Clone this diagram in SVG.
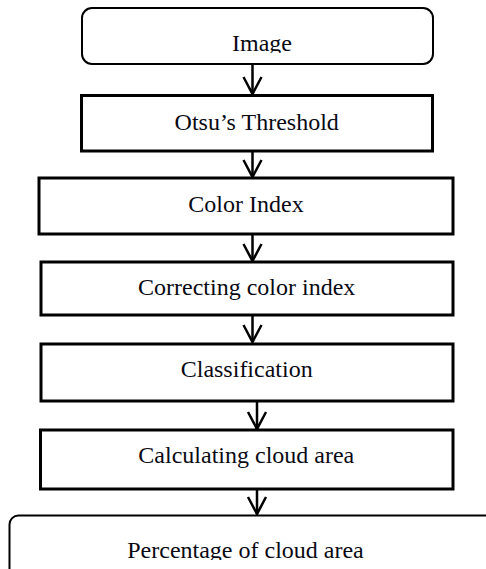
<svg xmlns="http://www.w3.org/2000/svg" width="486" height="569" viewBox="0 0 486 569">
  <style>
    .box { fill: #ffffff; stroke: #000000; stroke-width: 3; }
    .rbox { fill: #ffffff; stroke: #000000; stroke-width: 2; }
    .lbl { font-family: "Liberation Serif", "Times New Roman", serif; font-size: 24px; fill: #0a0a14; text-anchor: middle; }
    .conn { stroke: #000000; stroke-width: 2.5; fill: none; marker-end: url(#vhead); }
  </style>
  <defs>
    <marker id="vhead" viewBox="-2 -2 22 22" refX="17" refY="9" markerWidth="22" markerHeight="22" markerUnits="userSpaceOnUse" orient="auto" overflow="visible">
      <path d="M0,0 L17,9 L0,18" fill="none" stroke="#000000" stroke-width="2.5"/>
    </marker>
    <clipPath id="clipImage"><rect x="0" y="0" width="486" height="52.7"/></clipPath>
    <clipPath id="clipPct"><rect x="0" y="500" width="486" height="60"/></clipPath>
  </defs>
  <rect width="486" height="569" fill="#ffffff"/>

  <g id="connectors">
    <line class="conn" x1="252.5" y1="64" x2="252.5" y2="94"/>
    <line class="conn" x1="252.5" y1="151" x2="252.5" y2="177"/>
    <line class="conn" x1="252.5" y1="234" x2="252.5" y2="261"/>
    <line class="conn" x1="252.5" y1="315" x2="252.5" y2="342"/>
    <line class="conn" x1="257" y1="401" x2="257" y2="429"/>
    <line class="conn" x1="257" y1="489" x2="257" y2="514"/>
  </g>

  <g id="node-image">
    <rect class="rbox" x="82" y="8" width="351" height="56" rx="10" ry="10"/>
    <text class="lbl" x="262" y="51" clip-path="url(#clipImage)">Image</text>
  </g>
  <g id="node-otsu">
    <rect class="box" x="81.5" y="95.5" width="351" height="55.5"/>
    <text class="lbl" x="256.7" y="129.5">Otsu’s Threshold</text>
  </g>
  <g id="node-color-index">
    <rect class="box" x="39" y="178" width="414" height="56"/>
    <text class="lbl" x="246" y="211.7">Color Index</text>
  </g>
  <g id="node-correcting">
    <rect class="box" x="41" y="262" width="412" height="53"/>
    <text class="lbl" x="246.7" y="295">Correcting color index</text>
  </g>
  <g id="node-classification">
    <rect class="box" x="41" y="344" width="412" height="57"/>
    <text class="lbl" x="246.7" y="377.3">Classification</text>
  </g>
  <g id="node-calculating">
    <rect class="box" x="40.5" y="430" width="412.5" height="59"/>
    <text class="lbl" x="246.3" y="463.3">Calculating cloud area</text>
  </g>
  <g id="node-percentage">
    <rect class="rbox" x="9.5" y="515.5" width="500" height="80" rx="9" ry="9"/>
    <text class="lbl" x="245.5" y="557.5" clip-path="url(#clipPct)">Percentage of cloud area</text>
  </g>
</svg>
